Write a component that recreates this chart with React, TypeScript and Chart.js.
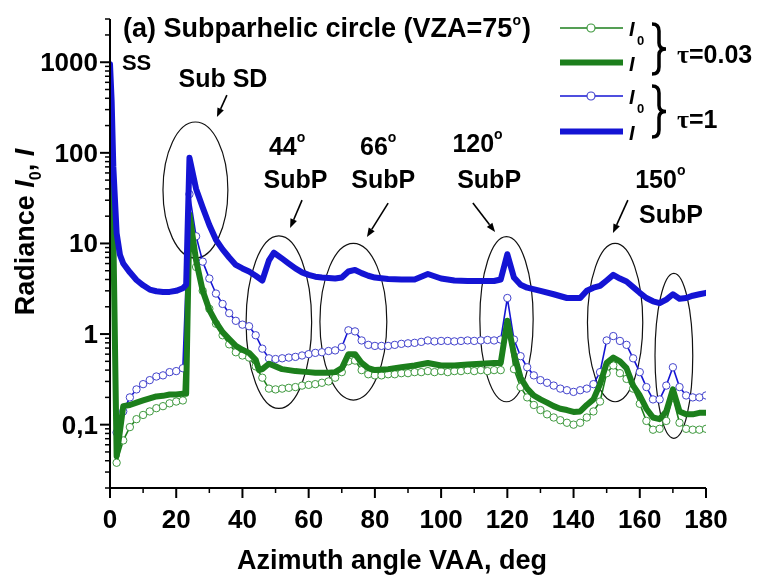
import React, { useEffect, useRef } from "react";
import { Chart, registerables } from "chart.js";
Chart.register(...registerables);

// ---------- data ----------
const I0_ANGLES = [0, 2, 4, 6, 8, 10, 12, 14, 16, 18, 20, 22, 24, 26, 28, 30, 32, 34, 36, 38, 40, 42, 44, 46, 48, 50, 52, 54, 56, 58, 60, 62, 64, 66, 68, 70, 72, 74, 76, 78, 80, 82, 84, 86, 88, 90, 92, 94, 96, 98, 100, 102, 104, 106, 108, 110, 112, 114, 116, 118, 120, 122, 124, 126, 128, 130, 132, 134, 136, 138, 140, 142, 144, 146, 148, 150, 152, 154, 156, 158, 160, 162, 164, 166, 168, 170, 172, 174, 176, 178, 180];

const BLUE_I0 = [
  300, 0.082, 0.14, 0.2, 0.245, 0.28, 0.31, 0.34, 0.35, 0.38, 0.39, 0.42,
  35, 12, 6.3, 4.1, 2.8, 2.15, 1.7, 1.4, 1.27, 1.22, 0.97, 0.69, 0.54,
  0.53, 0.54, 0.55, 0.56, 0.58, 0.6, 0.62, 0.63, 0.65, 0.66, 0.72, 1.1, 1.07, 0.85, 0.76, 0.74,
  0.74, 0.74, 0.76, 0.78, 0.79, 0.8, 0.82, 0.85, 0.83, 0.84,
  0.84, 0.83, 0.84, 0.85, 0.84, 0.85, 0.86, 0.85, 0.87, 2.5,
  0.87, 0.57, 0.43, 0.35, 0.31, 0.29, 0.27, 0.25, 0.24, 0.23,
  0.24, 0.25, 0.28, 0.38, 0.85, 0.95, 0.84, 0.76, 0.54, 0.38,
  0.26, 0.19, 0.19, 0.27, 0.43, 0.26, 0.21, 0.2, 0.2, 0.21,
];

const GREEN_I0 = [
  300, 0.038, 0.067, 0.094, 0.115, 0.128, 0.14, 0.152, 0.16, 0.172, 0.18, 0.185,
  15, 5.5, 3.0, 1.9, 1.3, 0.97, 0.77, 0.63, 0.58, 0.55, 0.44, 0.33, 0.25,
  0.245, 0.25, 0.255, 0.26, 0.27, 0.275, 0.28, 0.29, 0.3, 0.33, 0.38, 0.5, 0.51, 0.4, 0.36, 0.35,
  0.35, 0.36, 0.36, 0.37, 0.37, 0.38, 0.38, 0.39, 0.38, 0.39,
  0.38, 0.39, 0.39, 0.4, 0.39, 0.4, 0.39, 0.4, 0.4, 1.35,
  0.41, 0.26, 0.2, 0.165, 0.145, 0.13, 0.12, 0.112, 0.105, 0.1,
  0.105, 0.12, 0.14, 0.18, 0.37, 0.45, 0.37, 0.32, 0.25, 0.17,
  0.11, 0.088, 0.09, 0.11, 0.2, 0.105, 0.09, 0.088, 0.088, 0.09,
];

const GREEN_I_ANGLES = [0, 1, 2, 4, 6, 8, 10, 12, 14, 16, 18, 20, 22, 23, 24, 26, 28, 30, 32, 34, 36, 38, 40, 42, 44, 45, 46, 48, 50, 52, 54, 56, 58, 60, 62, 64, 66, 68, 70, 72, 74, 76, 78, 80, 84, 88, 92, 96, 100, 104, 108, 112, 116, 118, 120, 122, 124, 126, 128, 130, 132, 134, 136, 138, 140, 142, 144, 146, 148, 150, 152, 154, 156, 158, 160, 162, 164, 166, 168, 170, 172, 174, 176, 178, 180];
const GREEN_I = [
  330, 13, 0.045,
  0.16, 0.165, 0.175, 0.185, 0.195, 0.205, 0.208, 0.215, 0.215, 0.22,
  0.22, 21,
  6.5, 3.0, 1.85, 1.35, 1.05, 0.88, 0.74, 0.67, 0.62, 0.52,
  0.4, 0.41,
  0.47, 0.44, 0.41, 0.4, 0.39, 0.385, 0.38, 0.375, 0.375, 0.375, 0.38, 0.42, 0.6, 0.6, 0.48, 0.42, 0.4,
  0.41, 0.43, 0.45, 0.48, 0.45, 0.45, 0.46, 0.47, 0.48,
  0.48, 1.4,
  0.6, 0.33, 0.25, 0.21, 0.19, 0.175, 0.16, 0.15, 0.145, 0.138,
  0.14, 0.165, 0.19, 0.28, 0.48, 0.55, 0.5, 0.42, 0.27, 0.21,
  0.15, 0.12, 0.115, 0.14, 0.245, 0.14, 0.13, 0.13, 0.135, 0.135,
];

const BLUE_I_ANGLES = [0, 0.5, 1, 2, 3, 4, 6, 8, 10, 12, 14, 16, 18, 20, 22, 23, 24, 26, 28, 30, 32, 34, 36, 38, 40, 42, 44, 46, 48, 49.5, 52, 54, 56, 58, 60, 62, 64, 66, 68, 70, 72, 74, 76, 78, 80, 84, 88, 92, 96, 100, 104, 108, 112, 116, 118, 120, 122, 124, 126, 130, 134, 138, 142, 144, 146, 148, 150, 152, 154, 156, 158, 160, 162, 164, 166, 168, 170, 172, 174, 176, 178, 180];
const BLUE_I = [
  950, 370, 70, 13, 7.5, 6.0,
  4.8, 3.95, 3.45, 3.1, 2.97, 2.92, 2.92, 3.0, 3.2,
  3.5,
  88, 40, 25, 16, 11, 8.6, 7.0, 5.8, 5.3, 4.9, 4.4, 3.9, 6.5,
  7.9,
  6.8, 6.0, 5.3, 4.8, 4.5, 4.3, 4.2, 4.15, 4.1, 4.2, 4.9, 5.1, 4.7, 4.4, 4.2,
  4.05, 4.0, 4.0, 4.6, 4.1, 3.9, 3.85, 3.85, 3.85,
  4.0, 7.6, 4.2, 3.5, 3.25,
  3.0, 2.75, 2.5, 2.5,
  3.0, 3.25, 3.4, 3.9, 4.5, 4.1, 3.8, 3.3, 2.85, 2.5, 2.3, 2.2, 2.4, 2.75, 2.45, 2.5, 2.65, 2.75, 2.85,
];

const X_TICKS = [0, 20, 40, 60, 80, 100, 120, 140, 160, 180];
const X_TICK_LABELS = ["0", "20", "40", "60", "80", "100", "120", "140", "160", "180"];
const X_MINOR = [10, 30, 50, 70, 90, 110, 130, 150, 170];
const Y_TICKS = [0.1, 1, 10, 100, 1000];
const Y_TICK_LABELS = ["0,1", "1", "10", "100", "1000"];
const Y_MINOR = [
  0.02, 0.03, 0.04, 0.05, 0.06, 0.07, 0.08, 0.09,
  0.2, 0.3, 0.4, 0.5, 0.6, 0.7, 0.8, 0.9,
  2, 3, 4, 5, 6, 7, 8, 9,
  20, 30, 40, 50, 60, 70, 80, 90,
  200, 300, 400, 500, 600, 700, 800, 900,
  2000, 3000,
];

// annotation ellipses: [angle min, angle max, value min, value max]
const ELLIPSES = [
  [16.0, 35.6, 6.9, 219],
  [41.1, 60.9, 0.151, 12.1],
  [63.4, 83.6, 0.187, 10.0],
  [111.7, 127.8, 0.179, 11.9],
  [144.2, 160.9, 0.179, 10.0],
  [164.6, 176.0, 0.0707, 4.68],
];
// arrows: [angle from, value from, angle to, value to]
const ARROWS = [
  [35.3, 434, 32.3, 248],
  [58.0, 30.1, 54.4, 14.8],
  [84.0, 27.9, 77.6, 11.8],
  [109.6, 27.9, 116.3, 13.4],
  [156.4, 30.1, 151.9, 13.0],
];
// annotation labels: [text, angle (center), value at baseline, degree sign]
const LABELS: [string, number, number, boolean][] = [
  ["Sub SD", 34.1, 532, false],
  ["44", 53.5, 94.6, true],
  ["SubP", 56.0, 40.9, false],
  ["66", 81.0, 94.6, true],
  ["SubP", 82.5, 40.9, false],
  ["120", 111.0, 102, true],
  ["SubP", 114.5, 40.9, false],
  ["150", 166.2, 40.9, true],
  ["SubP", 169.4, 16.8, false],
];

const GREEN = "#1c7f1c";
const BLUE = "#1414d4";
const GREEN_C = "#3f993f";
const BLUE_C = "#4343cc";
const FONT = '"Liberation Sans", Arial, sans-serif';

function drawParts(ctx: CanvasRenderingContext2D, parts: any[], x: number, y: number) {
  let cx = x;
  for (const p of parts) {
    ctx.font = p.font;
    ctx.fillText(p.text, cx, y + (p.dy || 0));
    cx += ctx.measureText(p.text).width + (p.gap || 0);
  }
  return cx;
}
function partsWidth(ctx: CanvasRenderingContext2D, parts: any[]) {
  let w = 0;
  for (const p of parts) {
    ctx.font = p.font;
    w += ctx.measureText(p.text).width + (p.gap || 0);
  }
  return w;
}

function drawBrace(ctx: CanvasRenderingContext2D, x: number, top: number, bottom: number) {
  const mid = (top + bottom) / 2;
  const w = 14;
  const xm = x + w / 2;
  ctx.beginPath();
  ctx.moveTo(x, top + 1);
  ctx.quadraticCurveTo(xm, top + 1, xm, top + 8);
  ctx.lineTo(xm, mid - 6);
  ctx.quadraticCurveTo(xm, mid, x + w, mid);
  ctx.quadraticCurveTo(xm, mid, xm, mid + 6);
  ctx.lineTo(xm, bottom - 8);
  ctx.quadraticCurveTo(xm, bottom - 1, x, bottom - 1);
  ctx.stroke();
}

const backPlugin = {
  id: "backDecor",
  beforeDatasetsDraw(chart: any) {
    const { ctx } = chart;
    const xs = chart.scales.x;
    const ys = chart.scales.y;
    ctx.save();
    ctx.strokeStyle = "#111";
    ctx.lineWidth = 1.2;
    for (const [a0, a1, v0, v1] of ELLIPSES) {
      const x0 = xs.getPixelForValue(a0), x1 = xs.getPixelForValue(a1);
      const y0 = ys.getPixelForValue(v1), y1 = ys.getPixelForValue(v0);
      ctx.beginPath();
      ctx.ellipse((x0 + x1) / 2, (y0 + y1) / 2, (x1 - x0) / 2, (y1 - y0) / 2, 0, 0, Math.PI * 2);
      ctx.stroke();
    }
    ctx.restore();
  },
};

const frontPlugin = {
  id: "frontDecor",
  afterDraw(chart: any) {
    const { ctx, chartArea } = chart;
    const xs = chart.scales.x;
    const ys = chart.scales.y;
    const X = (a: number) => xs.getPixelForValue(a);
    const Y = (v: number) => ys.getPixelForValue(v);
    const L = chartArea.left, B = chartArea.bottom;
    ctx.save();
    ctx.fillStyle = "#000";
    ctx.strokeStyle = "#000";

    // axes
    ctx.lineWidth = 2;
    ctx.beginPath();
    ctx.moveTo(L, chartArea.top);
    ctx.lineTo(L, B);
    ctx.lineTo(chartArea.right, B);
    ctx.stroke();
    // ticks
    ctx.lineWidth = 2;
    for (const v of Y_TICKS) {
      ctx.beginPath(); ctx.moveTo(L - 10, Y(v)); ctx.lineTo(L, Y(v)); ctx.stroke();
    }
    for (const a of X_TICKS) {
      ctx.beginPath(); ctx.moveTo(X(a), B); ctx.lineTo(X(a), B + 10); ctx.stroke();
    }
    ctx.lineWidth = 1.5;
    for (const v of Y_MINOR) {
      ctx.beginPath(); ctx.moveTo(L - 5, Y(v)); ctx.lineTo(L, Y(v)); ctx.stroke();
    }
    for (const a of X_MINOR) {
      ctx.beginPath(); ctx.moveTo(X(a), B); ctx.lineTo(X(a), B + 5); ctx.stroke();
    }
    // tick labels
    ctx.font = `bold 26px ${FONT}`;
    ctx.textBaseline = "alphabetic";
    ctx.textAlign = "right";
    Y_TICKS.forEach((v, i) => ctx.fillText(Y_TICK_LABELS[i], L - 12, Y(v) + 9));
    ctx.textAlign = "center";
    X_TICKS.forEach((a, i) => ctx.fillText(X_TICK_LABELS[i], X(a), B + 40));

    // axis titles
    ctx.font = `bold 27px ${FONT}`;
    ctx.fillText("Azimuth angle VAA, deg", 392, 569);
    ctx.textAlign = "left";
    const yParts = [
      { text: "Radiance ", font: `bold 27px ${FONT}` },
      { text: "I", font: `italic bold 27px ${FONT}` },
      { text: "0", font: `bold 16px ${FONT}`, dy: 7 },
      { text: ", ", font: `bold 27px ${FONT}` },
      { text: "I", font: `italic bold 27px ${FONT}` },
    ];
    ctx.save();
    ctx.translate(34, 232);
    ctx.rotate(-Math.PI / 2);
    const yw = partsWidth(ctx, yParts);
    drawParts(ctx, yParts, -yw / 2, 0);
    ctx.restore();

    // title
    drawParts(ctx, [
      { text: "(a) Subparhelic circle (VZA=75", font: `bold 27px ${FONT}` },
      { text: "o", font: `bold 14px ${FONT}`, dy: -12, gap: 1 },
      { text: ")", font: `bold 27px ${FONT}` },
    ], 123, 37);

    // SS
    ctx.font = `bold 22px ${FONT}`;
    ctx.fillText("SS", X(3.6), Y(820));

    // annotation labels
    for (const [t, a, v, deg] of LABELS) {
      const parts: any[] = [{ text: t, font: `bold 25px ${FONT}` }];
      if (deg) parts.push({ text: "o", font: `bold 14px ${FONT}`, dy: -13, gap: 0 });
      const w = partsWidth(ctx, parts);
      drawParts(ctx, parts, X(a) - w / 2, Y(v));
    }

    // arrows
    ctx.lineWidth = 1.6;
    for (const [a0, v0, a1, v1] of ARROWS) {
      const x0 = X(a0), y0 = Y(v0), x1 = X(a1), y1 = Y(v1);
      const ang = Math.atan2(y1 - y0, x1 - x0);
      const hl = 9, hw = 3.5;
      const bx = x1 - hl * Math.cos(ang), by = y1 - hl * Math.sin(ang);
      ctx.beginPath(); ctx.moveTo(x0, y0); ctx.lineTo(bx, by); ctx.stroke();
      ctx.beginPath();
      ctx.moveTo(x1, y1);
      ctx.lineTo(bx + hw * Math.sin(ang), by - hw * Math.cos(ang));
      ctx.lineTo(bx - hw * Math.sin(ang), by + hw * Math.cos(ang));
      ctx.closePath();
      ctx.fill();
    }

    // legend
    const lx0 = 560, lx1 = 623, lxc = 591;
    const rows = [
      { y: 28, color: GREEN, circ: GREEN_C, thin: true },
      { y: 62.5, color: GREEN, circ: GREEN_C, thin: false },
      { y: 96, color: BLUE, circ: BLUE_C, thin: true },
      { y: 131.5, color: BLUE, circ: BLUE_C, thin: false },
    ];
    for (const r of rows) {
      ctx.strokeStyle = r.color;
      ctx.lineWidth = r.thin ? 1.6 : 6;
      ctx.beginPath(); ctx.moveTo(lx0, r.y); ctx.lineTo(lx1, r.y); ctx.stroke();
      if (r.thin) {
        ctx.fillStyle = "#fff";
        ctx.strokeStyle = r.circ;
        ctx.lineWidth = 1.2;
        ctx.beginPath(); ctx.arc(lxc, r.y, 4, 0, Math.PI * 2); ctx.fill(); ctx.stroke();
      }
      ctx.fillStyle = "#000";
      ctx.font = `italic bold 20px ${FONT}`;
      ctx.fillText("I", 629, r.y + 8);
      if (r.thin) {
        ctx.font = `bold 13px ${FONT}`;
        ctx.fillText("0", 637, r.y + 17);
      }
    }
    ctx.strokeStyle = "#000";
    ctx.lineWidth = 3.5;
    drawBrace(ctx, 652, 23, 75);
    drawBrace(ctx, 652, 85, 138);
    drawParts(ctx, [
      { text: "τ", font: `bold 26px "Liberation Serif", serif` },
      { text: "=0.03", font: `bold 25px ${FONT}` },
    ], 677, 63);
    drawParts(ctx, [
      { text: "τ", font: `bold 26px "Liberation Serif", serif` },
      { text: "=1", font: `bold 25px ${FONT}` },
    ], 677, 128);

    ctx.restore();
  },
};

export default function App() {
  const ref = useRef<HTMLCanvasElement | null>(null);
  useEffect(() => {
    if (!ref.current) return;
    const pts = (xs: number[], ys: number[]) => xs.map((x, i) => ({ x, y: ys[i] }));
    const chart = new Chart(ref.current, {
      type: "line",
      data: {
        datasets: [
          {
            label: "I, τ=1",
            data: pts(BLUE_I_ANGLES, BLUE_I),
            borderColor: BLUE,
            borderWidth: 6,
            pointRadius: 0,
            order: 0,
          },
          {
            label: "I, τ=0.03",
            data: pts(GREEN_I_ANGLES, GREEN_I),
            borderColor: GREEN,
            borderWidth: 6,
            pointRadius: 0,
            order: 1,
          },
          {
            label: "I0, τ=1",
            data: pts(I0_ANGLES, BLUE_I0),
            borderColor: BLUE,
            borderWidth: 1.6,
            pointRadius: (c: any) => (c.dataIndex === 0 ? 0 : 3.7),
            pointBorderWidth: 1,
            pointBorderColor: BLUE_C,
            pointBackgroundColor: "#fff",
            order: 2,
          },
          {
            label: "I0, τ=0.03",
            data: pts(I0_ANGLES, GREEN_I0),
            borderColor: GREEN,
            borderWidth: 1.6,
            pointRadius: (c: any) => (c.dataIndex === 0 ? 0 : 3.7),
            pointBorderWidth: 1,
            pointBorderColor: GREEN_C,
            pointBackgroundColor: "#fff",
            order: 3,
          },
        ],
      } as any,
      options: {
        animation: false,
        responsive: false,
        maintainAspectRatio: false,
        layout: { padding: { left: 110, top: 19, right: 51, bottom: 87 } },
        elements: { line: { tension: 0, borderJoinStyle: "round", borderCapStyle: "round" } },
        plugins: { legend: { display: false }, tooltip: { enabled: false } },
        scales: {
          x: { type: "linear", min: 0, max: 180, display: false },
          y: { type: "logarithmic", min: 0.02, max: 3000, display: false },
        },
      } as any,
      plugins: [backPlugin, frontPlugin],
    });
    return () => chart.destroy();
  }, []);
  return (
    <div style={{ position: "absolute", left: 0, top: 0, width: 757, height: 575, background: "#fff" }}>
      <canvas ref={ref} width={757} height={575} style={{ width: 757, height: 575, display: "block" }} />
    </div>
  );
}
